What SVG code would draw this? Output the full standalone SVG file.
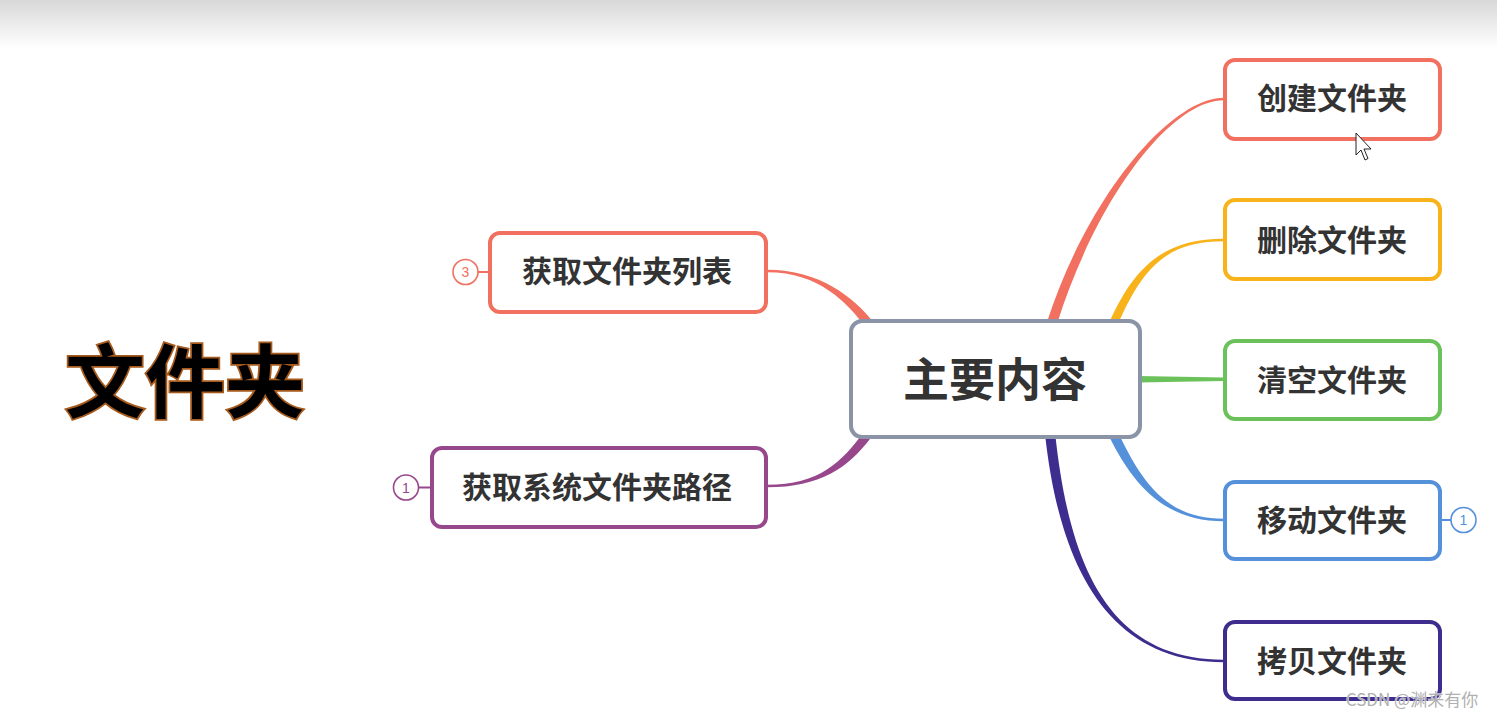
<svg xmlns="http://www.w3.org/2000/svg" width="1497" height="718" viewBox="0 0 1497 718">
<defs>
<linearGradient id="topfade" x1="0" y1="0" x2="0" y2="1">
<stop offset="0" stop-color="#d8d8d8"/>
<stop offset="1" stop-color="#ffffff"/>
</linearGradient>
<style>
.box{fill:#ffffff;stroke-width:4}
.lbl{font-family:"Noto Sans CJK SC","Noto Sans",sans-serif;font-weight:bold;fill:#333333;text-anchor:middle}
.badge{fill:#ffffff;stroke-width:1.6}
.btxt{font-family:"Liberation Sans",sans-serif;font-size:14px;text-anchor:middle}
</style>
</defs>
<rect x="0" y="0" width="1497" height="718" fill="#ffffff"/>
<rect x="0" y="0" width="1497" height="48" fill="url(#topfade)"/>

<text x="185" y="411" font-family="'Noto Sans CJK SC','Noto Sans',sans-serif" font-weight="bold" font-size="80" fill="#000000" stroke="#a65a1c" stroke-width="3.5" paint-order="stroke" text-anchor="middle">文件夹</text>

<g id="connectors">
<path d="M1057,324 C1096,200 1170,100.3 1224,100.3 L1224,97.7 C1170,97.7 1087,198 1047,322 Z" fill="#f2705f"/>
<path d="M1117,326.6 C1143.7,263.6 1170,241.3 1224,241.3 L1224,238.7 C1170,238.7 1136.3,260.4 1109,323.4 Z" fill="#f8b21a"/>
<path d="M1138,376 L1224,377.4 L1224,381 L1138,382.5 Z" fill="#6cc25a"/>
<path d="M1117.5,431 C1144.1,488.1 1170,518.7 1224,518.7 L1224,521.3 C1170,521.3 1135.9,491.9 1108.5,435 Z" fill="#5591da"/>
<path d="M1055,432 C1069.4,569.1 1110,659.7 1224,659.7 L1224,662.3 C1110,662.3 1060,570.9 1045,434 Z" fill="#3e2d8f"/>
<path d="M767,269.7 C820,269.7 853.5,297.2 873.5,322.2 L866.5,327.8 C846.5,302.8 820,272.3 767,272.3 Z" fill="#f2705f"/>
<path d="M767,487.3 C820,487.3 848.6,467.7 871.6,436.7 L864.4,431.3 C841.4,462.3 820,484.7 767,484.7 Z" fill="#97478b"/>
<line x1="478" y1="272" x2="490" y2="272" stroke="#f2705f" stroke-width="2"/>
<line x1="419" y1="487.5" x2="432" y2="487.5" stroke="#97478b" stroke-width="2"/>
<line x1="1441" y1="520" x2="1451" y2="520" stroke="#5591da" stroke-width="2"/>
</g>

<g id="center">
<rect class="box" x="851" y="321" width="289" height="116" rx="11" stroke="#8a94a6"/>
<text class="lbl" x="995" y="396" font-size="46">主要内容</text>
</g>

<g id="n-create">
<rect class="box" x="1225" y="60" width="215" height="79" rx="10" stroke="#f2705f"/>
<text class="lbl" x="1332" y="109" font-size="30">创建文件夹</text>
</g>
<g id="n-delete">
<rect class="box" x="1225" y="200" width="215" height="79" rx="10" stroke="#f8b21a"/>
<text class="lbl" x="1332" y="251" font-size="30">删除文件夹</text>
</g>
<g id="n-clear">
<rect class="box" x="1225" y="341" width="215" height="78" rx="10" stroke="#6cc25a"/>
<text class="lbl" x="1332" y="391" font-size="30">清空文件夹</text>
</g>
<g id="n-move">
<rect class="box" x="1225" y="482" width="215" height="77" rx="10" stroke="#5591da"/>
<text class="lbl" x="1332" y="531" font-size="30">移动文件夹</text>
<circle class="badge" cx="1463.5" cy="520" r="12.5" stroke="#5591da"/>
<text class="btxt" x="1463.5" y="525" fill="#5591da">1</text>
</g>
<g id="n-copy">
<rect class="box" x="1225" y="622" width="215" height="77" rx="10" stroke="#3e2d8f"/>
<text class="lbl" x="1332" y="672" font-size="30">拷贝文件夹</text>
</g>
<g id="n-list">
<rect class="box" x="490" y="233" width="276" height="79" rx="10" stroke="#f2705f"/>
<text class="lbl" x="627" y="282" font-size="30">获取文件夹列表</text>
<circle class="badge" cx="465.5" cy="272" r="12.5" stroke="#f2705f"/>
<text class="btxt" x="465.5" y="277" fill="#f2705f">3</text>
</g>
<g id="n-syspath">
<rect class="box" x="432" y="448" width="334" height="79" rx="10" stroke="#97478b"/>
<text class="lbl" x="597" y="498" font-size="30">获取系统文件夹路径</text>
<circle class="badge" cx="406" cy="487.5" r="12.5" stroke="#97478b"/>
<text class="btxt" x="406" y="492.5" fill="#97478b">1</text>
</g>

<path d="M1356,133 L1356,155 L1361,150 L1365,160 L1368,158.5 L1364,149 L1371,149 Z" fill="#ffffff" stroke="#222222" stroke-width="1"/>

<text x="1412" y="706" font-family="'Noto Sans CJK SC','Noto Sans',sans-serif" font-size="17" fill="#b0b0b0" stroke="#ffffff" stroke-width="0.6" paint-order="stroke" text-anchor="middle">CSDN @渊来有你</text>
</svg>
